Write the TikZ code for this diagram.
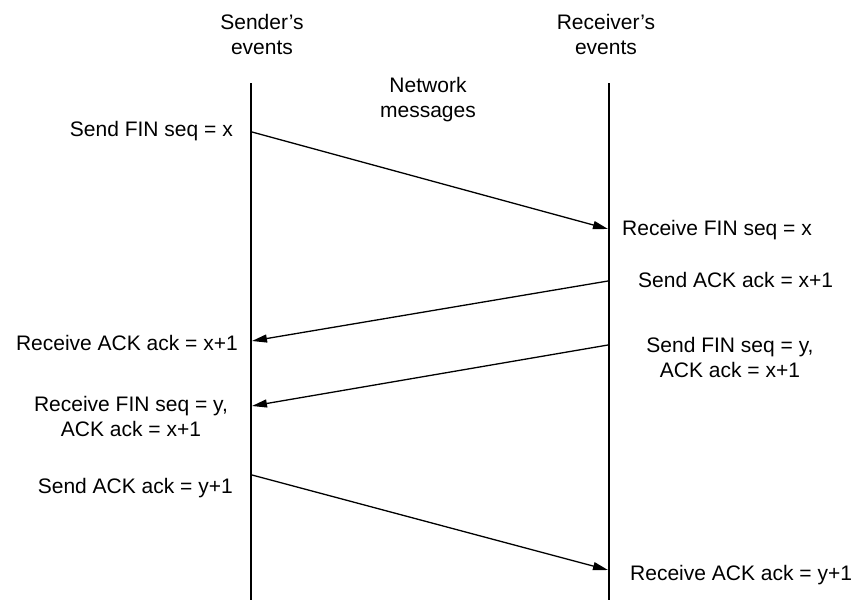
\documentclass[tikz,border=0pt]{standalone}
\usepackage{fontspec}
\setmainfont{Liberation Sans}
\usetikzlibrary{arrows.meta}
\begin{document}
\begin{tikzpicture}[x=1pt,y=-1pt,
  lbl/.style={inner sep=0pt,font=\fontsize{21}{25}\selectfont,align=center},
  life/.style={line width=2pt},
  msg/.style={line width=1.3pt,-{Triangle[length=15pt,width=8pt]}}]
\useasboundingbox (0,0) rectangle (862,602);
% headings
\node[lbl] (hs) at (262,34) {Sender's\\events};
\node[lbl] (hr) at (606,34) {Receiver's\\events};
\node[lbl] (hn) at (428,100) {Network\\messages};
% time lines
\coordinate (sT) at (251,83);
\coordinate (sB) at (251,600);
\coordinate (rT) at (609,83);
\coordinate (rB) at (609,600);
\draw[life] (sT) -- (sB);
\draw[life] (rT) -- (rB);
% message end points
\coordinate (a1) at (252,132);
\coordinate (b1) at (608,229);
\coordinate (a2) at (608,281);
\coordinate (b2) at (252,341);
\coordinate (a3) at (608,345);
\coordinate (b3) at (252,406);
\coordinate (a4) at (252,475);
\coordinate (b4) at (608,570);
\draw[msg] (a1) -- (b1);
\draw[msg] (a2) -- (b2);
\draw[msg] (a3) -- (b3);
\draw[msg] (a4) -- (b4);
% sender side events
\node[lbl,anchor=east] (e1) at (233,131) {Send FIN seq = x};
\node[lbl,anchor=east] (e2) at (238,343) {Receive ACK ack = x+1};
\node[lbl] (e3) at (131,416) {Receive FIN seq = y,\\ACK ack = x+1};
\node[lbl,anchor=east] (e4) at (233,488) {Send ACK ack = y+1};
% receiver side events
\node[lbl,anchor=west] (f1) at (622,230) {Receive FIN seq = x};
\node[lbl,anchor=west] (f2) at (638,280) {Send ACK ack = x+1};
\node[lbl] (f3) at (730,357) {Send FIN seq = y,\\ACK ack = x+1};
\node[lbl,anchor=west] (f4) at (630,575) {Receive ACK ack = y+1};
\end{tikzpicture}
\end{document}
